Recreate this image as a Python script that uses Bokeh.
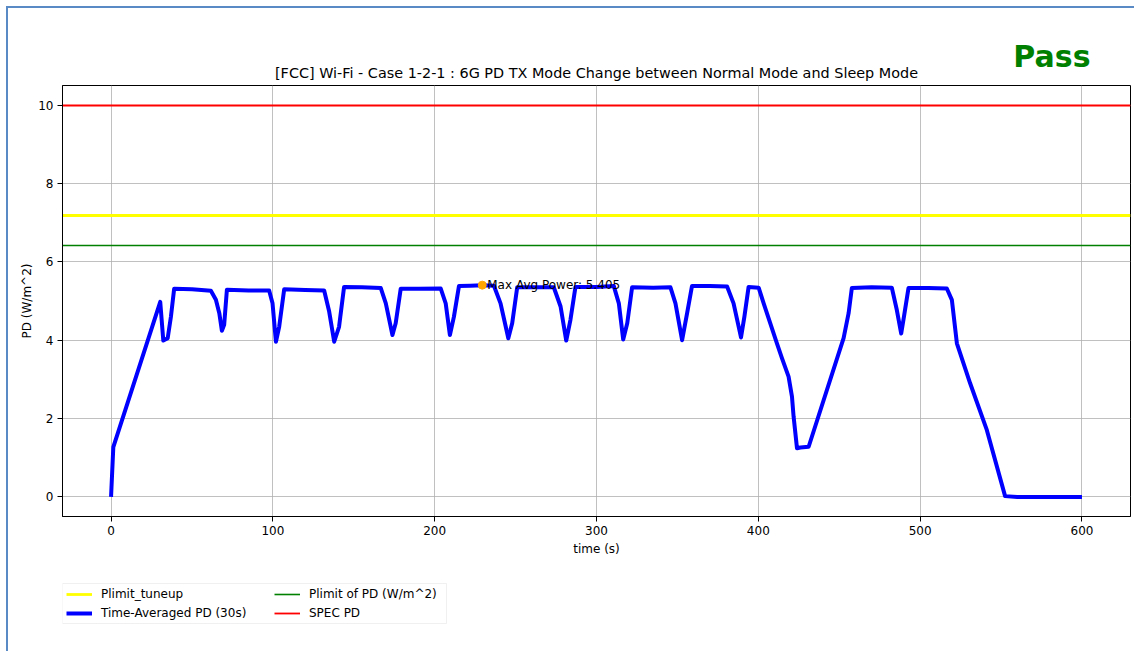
from bokeh.plotting import figure
from bokeh.models import Label, Legend, LegendItem, SingleIntervalTicker, Range1d, Title, BoxAnnotation
from bokeh.layouts import column
from bokeh.embed import file_html
from bokeh.resources import INLINE

# ---- data ----
time_s = [0, 1.4, 30.4, 32.3, 35.0, 37.0, 39.0, 50.0, 61.7, 64.8, 66.9, 68.5, 69.9, 71.6,
          85.0, 97.7, 99.8, 101.9, 103.9, 107.0, 120.0, 131.7, 134.8, 137.9, 140.9, 144.0,
          155.0, 166.7, 169.8, 173.9, 175.9, 179.0, 190.0, 203.7, 206.8, 209.4, 211.9, 215.0,
          222.0, 229.4, 236.6, 240.7, 245.5, 247.9, 251.0, 262.0, 273.6, 277.8, 281.3, 283.9,
          287.0, 300.0, 310.7, 313.8, 316.5, 319.0, 322.0, 335.0, 345.7, 348.8, 352.9, 356.0,
          359.0, 370.0, 380.7, 384.7, 389.3, 391.4, 394.0, 400.2, 403.3, 407.4, 411.5, 414.6,
          418.7, 420.8, 421.8, 423.9, 426.0, 431.1, 452.7, 455.8, 457.8, 470.0, 482.5, 485.6,
          488.3, 490.0, 492.8, 505.0, 516.5, 519.6, 522.7, 530.9, 541.2, 552.5, 560.0, 600.0]
pd_avg = [0.0, 1.27, 4.98, 3.99, 4.05, 4.60, 5.31, 5.30, 5.26, 5.03, 4.69, 4.24, 4.39, 5.29,
          5.27, 5.27, 4.94, 3.96, 4.34, 5.30, 5.28, 5.27, 4.73, 3.96, 4.34, 5.36,
          5.35, 5.33, 4.94, 4.13, 4.43, 5.31, 5.31, 5.32, 4.94, 4.13, 4.60, 5.38,
          5.39, 5.405, 5.39, 4.94, 4.05, 4.43, 5.35, 5.35, 5.35, 4.86, 3.99, 4.52,
          5.36, 5.36, 5.38, 4.94, 4.02, 4.43, 5.35, 5.34, 5.35, 4.94, 4.00, 4.69,
          5.38, 5.38, 5.37, 4.94, 4.07, 4.60, 5.36, 5.34, 4.94, 4.43, 3.92, 3.54,
          3.07, 2.56, 2.05, 1.24, 1.26, 1.28, 4.05, 4.69, 5.33, 5.35, 5.34, 4.77,
          4.17, 4.60, 5.33, 5.33, 5.32, 5.03, 3.92, 2.90, 1.71, 0.02, 0.0, 0.0]

max_time = [229.4]
max_power = [5.405]

plimit_tuneup = [7.18]
plimit_pd = [6.42]
spec_pd = [10.0]

FONT = "DejaVu Sans"
C_TUNE, C_AVG, C_PLIM, C_SPEC = "#ffff00", "#0000ff", "#008000", "#ff0000"
W_TUNE, W_AVG, W_PLIM, W_SPEC = 2.8, 4.0, 1.6, 1.8

p = figure(width=1126, height=557, output_backend="svg", toolbar_location=None,
           x_range=Range1d(-30, 630), y_range=Range1d(-0.5, 10.5),
           min_border_left=54, min_border_right=4, min_border_top=77, min_border_bottom=49)

main_title = Title(text="[FCC] Wi-Fi - Case 1-2-1 : 6G PD TX Mode Change between Normal Mode and Sleep Mode",
                   text_font=FONT, text_font_size="14.4px", text_font_style="normal",
                   align="center", text_color="black")
p.add_layout(main_title, "above")
pass_title = Title(text="Pass", text_font=FONT, text_font_size="30px", text_font_style="bold",
                   text_color="#008000", align="right", offset=40, standoff=-32)
p.add_layout(pass_title, "above")

p.outline_line_color = "black"
p.outline_line_width = 1
p.background_fill_color = "white"
p.border_fill_color = "white"

for ax in (p.xaxis[0], p.yaxis[0]):
    ax.major_label_text_font = FONT
    ax.major_label_text_font_size = "12px"
    ax.major_label_text_color = "black"
    ax.axis_label_text_font = FONT
    ax.axis_label_text_font_size = "12px"
    ax.axis_label_text_font_style = "normal"
    ax.axis_label_text_color = "black"
    ax.major_tick_in = 0
    ax.major_tick_out = 5
    ax.minor_tick_in = 0
    ax.minor_tick_out = 0
    ax.axis_line_color = "black"
    ax.major_tick_line_color = "black"
    ax.major_label_standoff = 4
p.xaxis[0].axis_label_standoff = 4
p.yaxis[0].axis_label_standoff = 1

p.xaxis.ticker = SingleIntervalTicker(interval=100)
p.yaxis.ticker = SingleIntervalTicker(interval=2)
p.xaxis.axis_label = "time (s)"
p.yaxis.axis_label = "PD (W/m^2)"

p.grid.grid_line_color = "#b0b0b0"
p.grid.grid_line_width = 0.8
p.xgrid.ticker = p.xaxis[0].ticker
p.ygrid.ticker = p.yaxis[0].ticker

p.hspan(y=plimit_tuneup, line_color=C_TUNE, line_width=W_TUNE)
p.line(time_s, pd_avg, line_color=C_AVG, line_width=W_AVG, line_join="round")
p.hspan(y=plimit_pd, line_color=C_PLIM, line_width=W_PLIM)
p.hspan(y=spec_pd, line_color=C_SPEC, line_width=W_SPEC)

p.scatter(max_time, max_power, size=8, color="orange")
p.add_layout(Label(x=max_time[0], y=max_power[0], x_offset=5, y_offset=0,
                   text="Max Avg Power: " + str(max_power[0]),
                   text_font=FONT, text_font_size="12px", text_color="black",
                   text_baseline="alphabetic"))

# ---- legend strip below the chart (frame aligned with the chart's frame) ----
q = figure(width=1126, height=86, output_backend="svg", toolbar_location=None,
           x_range=Range1d(0, 1068), y_range=Range1d(86, 0),
           x_axis_location=None, y_axis_location=None,
           min_border_left=54, min_border_right=4, min_border_top=0, min_border_bottom=0)
q.grid.visible = False
q.outline_line_color = None
q.background_fill_color = "white"
q.border_fill_color = "white"
# legend proxies drawn on an off-screen range, so only their legend glyphs show
q.extra_y_ranges = {"off": Range1d(1000, 2000)}

q.add_layout(BoxAnnotation(left=0, right=384, top=18, bottom=58, fill_color="white",
                           fill_alpha=0.8, line_color="#cccccc", line_width=1))

l_tune = q.hspan(y=plimit_tuneup, line_color=C_TUNE, line_width=W_TUNE, y_range_name="off")
l_avg = q.line(time_s, pd_avg, line_color=C_AVG, line_width=W_AVG, y_range_name="off")
l_plim = q.hspan(y=plimit_pd, line_color=C_PLIM, line_width=W_PLIM, y_range_name="off")
l_spec = q.hspan(y=spec_pd, line_color=C_SPEC, line_width=W_SPEC, y_range_name="off")

def make_legend(items, x):
    lg = Legend(items=items, location=(x, 30), margin=0)
    lg.label_text_font = FONT
    lg.label_text_font_size = "12px"
    lg.label_text_color = "black"
    lg.glyph_width = 26
    lg.glyph_height = 16
    lg.label_height = 16
    lg.label_standoff = 9
    lg.spacing = 3
    lg.padding = 3
    lg.border_line_color = None
    lg.background_fill_alpha = 0
    return lg

q.add_layout(make_legend([LegendItem(label="Plimit_tuneup", renderers=[l_tune]),
                          LegendItem(label="Time-Averaged PD (30s)", renderers=[l_avg])], 4), "center")
q.add_layout(make_legend([LegendItem(label="Plimit of PD (W/m^2)", renderers=[l_plim]),
                          LegendItem(label="SPEC PD", renderers=[l_spec])], 212), "center")

layout = column(p, q, spacing=0)
layout.styles = {"border-left": "2px solid #5a8ac6", "border-top": "2px solid #5a8ac6",
                 "margin-left": "6px", "margin-top": "6px"}

open("out.html", "w").write(file_html(layout, INLINE))
